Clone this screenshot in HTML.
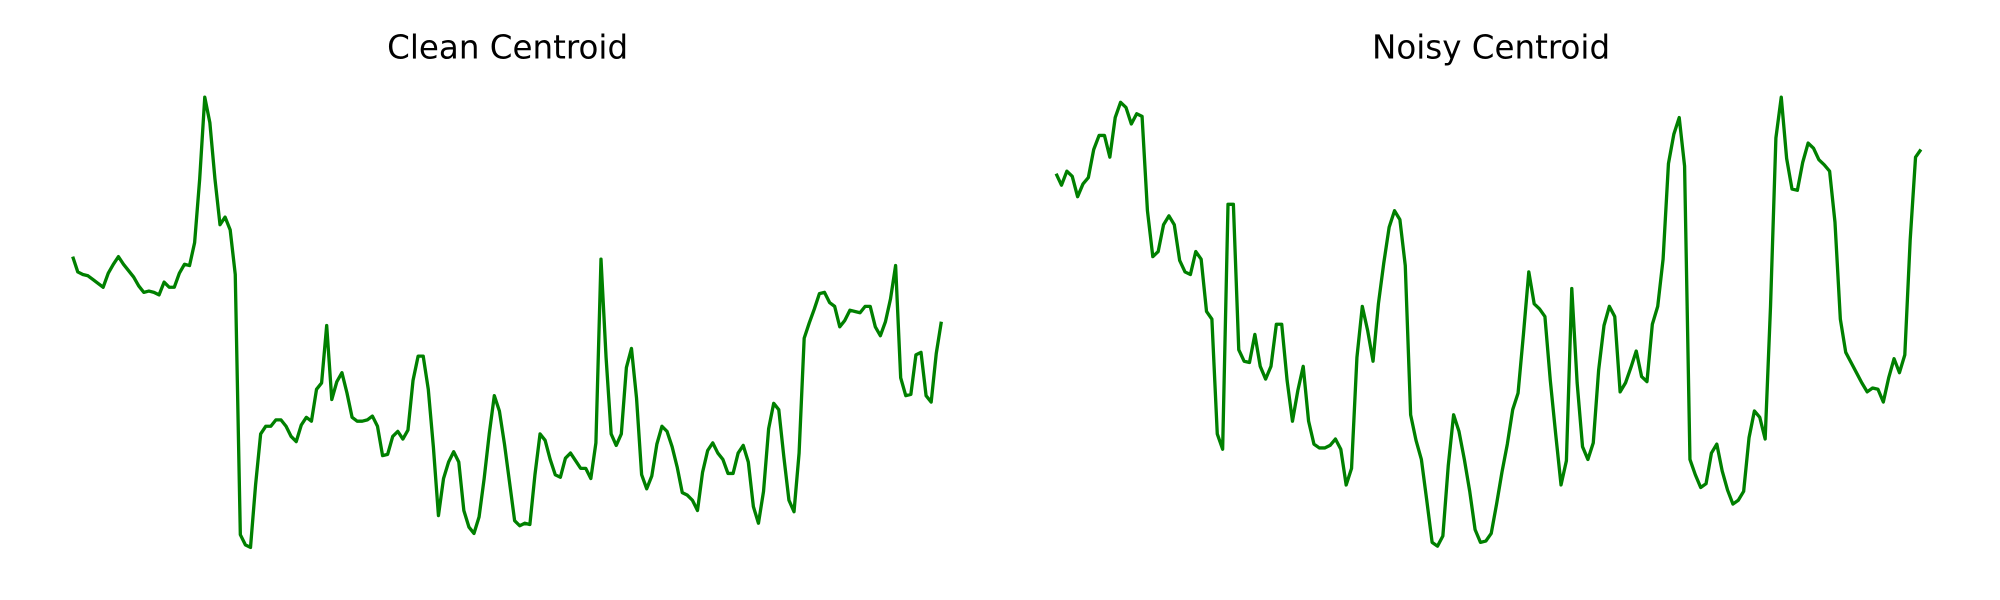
<!DOCTYPE html>
<html><head><meta charset="utf-8"><style>
html,body{margin:0;padding:0;background:#fff;}
svg{display:block;}
text{font-family:"DejaVu Sans","Liberation Sans",sans-serif;fill:#000;}
</style></head>
<body>
<svg id="chart" width="2000" height="600" viewBox="0 0 1568 470" xmlns="http://www.w3.org/2000/svg">
<rect width="1568" height="470" fill="#fff"/>
<text x="398" y="45.5" font-size="25.5" text-anchor="middle">Clean Centroid</text>
<text x="1169" y="45.5" font-size="25.5" text-anchor="middle">Noisy Centroid</text>
<g id="left-panel"></g>
<g id="right-panel"></g>
</svg>
<script>
// Clean centroid values (arbitrary units)
const cleanValues = [269,257,255,254,251,248,245,256,263,269,263,258,253,246,241,242,241,239,249,245,245,256,263,262,280,330,394,374,330,294,300,290,255,51,43,41,90,130,136,136,141,141,136,128,124,137,143,140,165,170,215,157,171,178,162,143,140,140,141,144,136,113,114,128,132,126,133,172,191,191,165,120,66,95,108,116,108,70,57,52,65,95,130,160,148,122,92,62,58,60,59,98,130,125,110,98,96,111,115,109,103,103,95,123,267,190,130,121,130,182,197,158,98,87,97,122,136,132,120,104,84,82,78,70,100,117,123,115,110,99,99,115,121,108,73,60,85,134,154,149,112,78,69,115,205,217,228,240,241,233,230,214,219,227,226,225,230,230,214,207,218,236,262,174,160,161,192,194,160,155,193,218];
// Noisy centroid values (arbitrary units)
const noisyValues = [334,325,336,332,316,326,331,353,364,364,347,378,390,386,373,381,379,305,269,273,294,301,294,266,257,255,273,267,226,220,130,118,310,310,196,187,186,208,183,173,183,216,216,172,140,164,183,140,122,119,119,121,126,118,90,103,190,230,211,187,232,264,292,305,298,262,145,125,110,78,45,42,50,105,145,132,110,85,55,45,46,52,75,100,122,149,162,208,257,232,228,222,172,130,90,109,244,170,120,110,123,180,215,230,222,163,170,182,195,175,171,216,230,267,342,365,378,340,110,98,88,91,115,122,101,86,75,78,85,127,148,143,126,230,362,394,346,322,321,343,358,354,345,341,336,296,220,194,186,178,170,163,166,165,155,174,189,178,192,282,347,353];

const ROWS_TOP = 470;
function yScale(v){ return ROWS_TOP - v; }
function xScale(i, n, x0, x1){ return x0 + (x1 - x0) * i / (n - 1); }

function drawSeries(groupId, values, x0, x1, name){
  const g = document.getElementById(groupId);
  const pts = values.map((v,i)=> xScale(i, values.length, x0, x1).toFixed(2)+','+yScale(v).toFixed(2)).join(' ');
  const pl = document.createElementNS('http://www.w3.org/2000/svg','polyline');
  pl.setAttribute('points', pts);
  pl.setAttribute('fill','none');
  pl.setAttribute('stroke','#008000');
  pl.setAttribute('stroke-width','2.6');
  pl.setAttribute('stroke-linejoin','round');
  
  
  g.appendChild(pl);
}
drawSeries('left-panel', cleanValues, 57, 738, 'clean-centroid-line');
drawSeries('right-panel', noisyValues, 828, 1506, 'noisy-centroid-line');
</script>
</body></html>
